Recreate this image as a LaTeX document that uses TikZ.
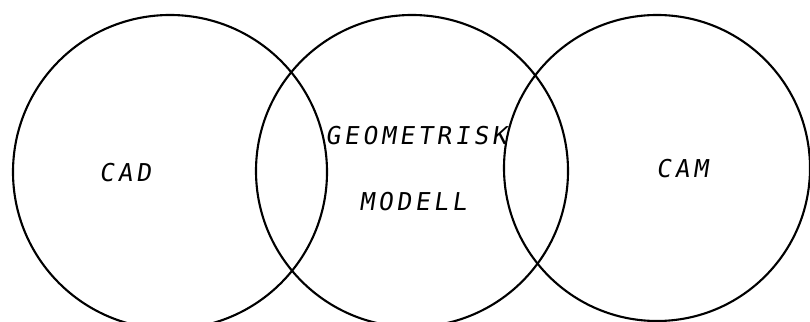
\documentclass[tikz,border=0pt]{standalone}
\usepackage{fontspec}
\usepackage{tikz}
\usetikzlibrary{positioning}
\newfontfamily\typefont[LetterSpace=15,FakeSlant=0.15]{DejaVu Sans Mono}

\begin{document}
\begin{tikzpicture}[
    ring/.style={draw, circle, line width=1.2pt, minimum size=#1, inner sep=0pt},
    lbl/.style={font=\typefont\fontsize{14}{16}\selectfont, inner sep=0pt}
]
\useasboundingbox (0,0) rectangle (16.2,6.44);

%% ── Circles ────────────────────────────────────────────────────────────
\node[ring=6.28cm] (cadring) at ( 3.40, 3.00) {};
\node[ring=6.24cm] (georing) at ( 8.24, 3.02) {};
\node[ring=6.12cm] (camring) at (13.14, 3.08) {};

%% ── Labels ─────────────────────────────────────────────────────────────
\node[lbl] (cad) at ( 2.50, 2.98) {CAD};
\node[lbl] (geo) at ( 8.32, 3.72) {GEOMETRISK};
\node[lbl] (mod) at ( 8.26, 2.40) {MODELL};
\node[lbl] (cam) at (13.64, 3.06) {CAM};
\end{tikzpicture}
\end{document}
